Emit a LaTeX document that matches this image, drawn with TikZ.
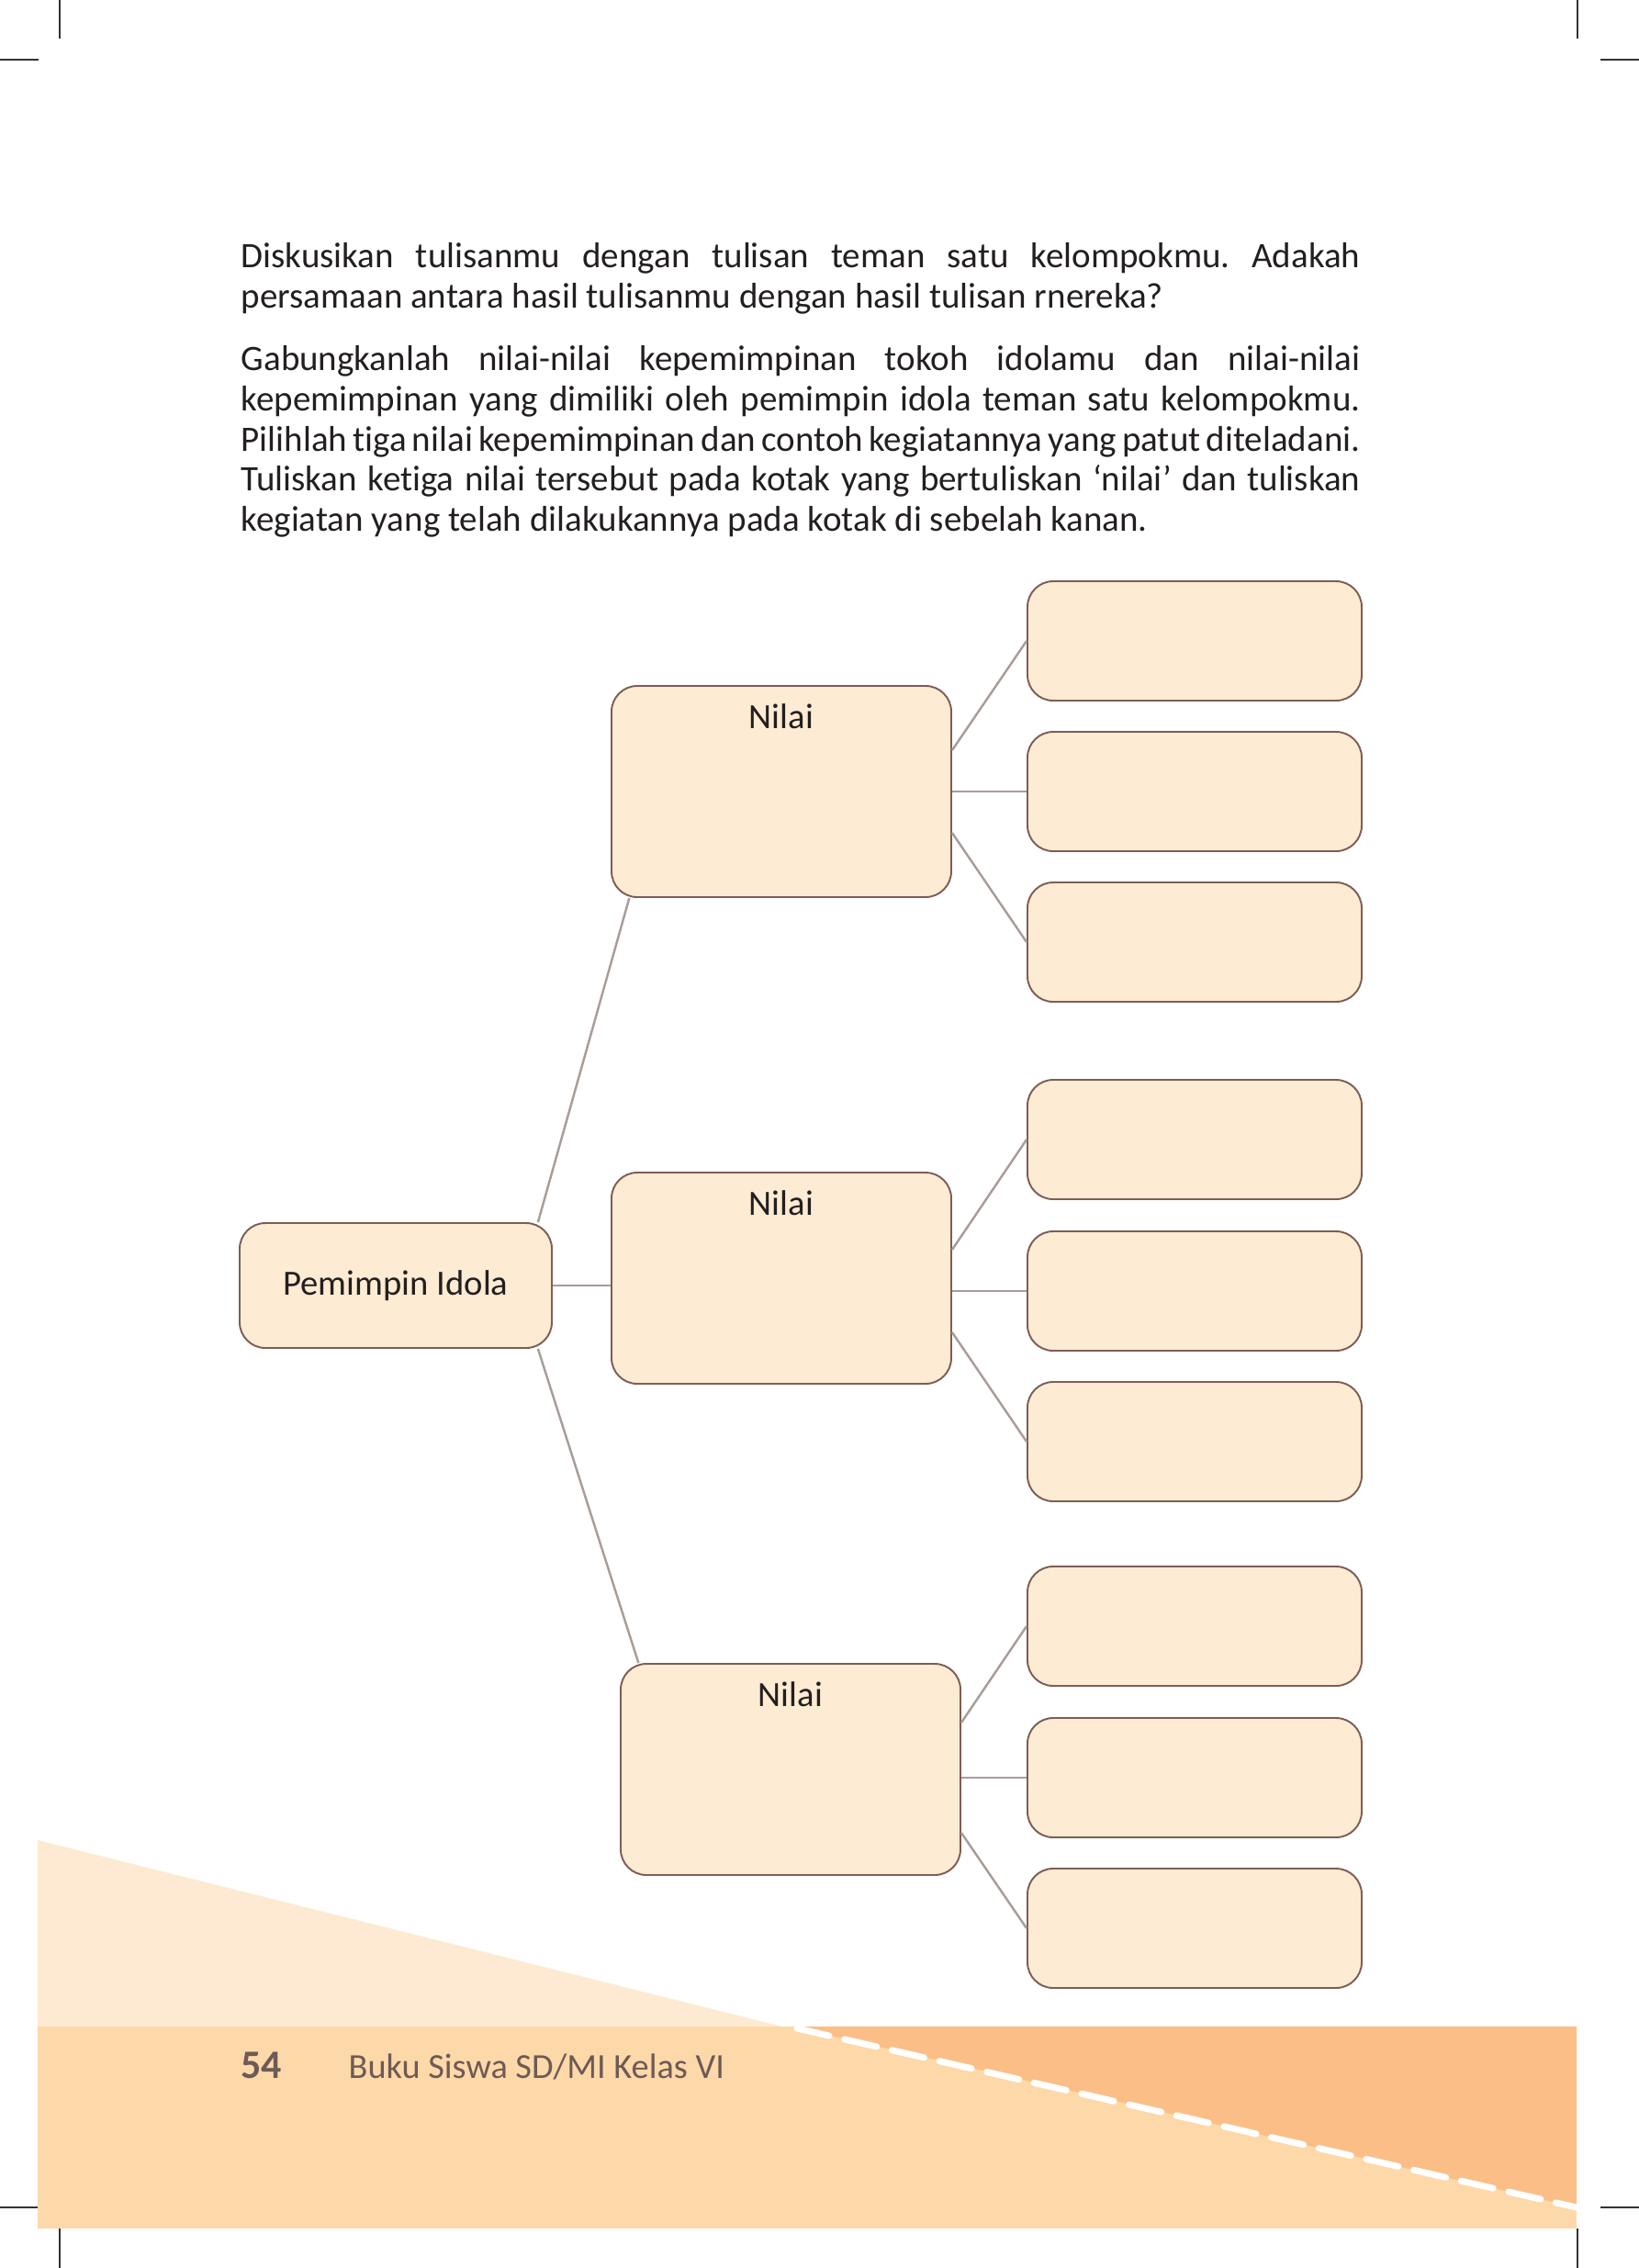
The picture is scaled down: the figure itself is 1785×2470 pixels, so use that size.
\documentclass[tikz,border=0pt]{standalone}
\usepackage{fontspec}
\setmainfont{Carlito}[Ligatures=NoCommon]
\usetikzlibrary{calc}

\definecolor{boxfill}{HTML}{FEEBD3}
\definecolor{boxline}{HTML}{7D5E55}
\definecolor{linkgray}{HTML}{A99D98}
\definecolor{palepeach}{HTML}{FEEAD2}
\definecolor{bandorange}{HTML}{FDD9A9}
\definecolor{deeporange}{HTML}{FCBE87}
\definecolor{footbrown}{HTML}{6E5A56}
\definecolor{inkblack}{HTML}{231F20}

\newcommand\instrfont{\fontsize{11.1}{12.47}\selectfont}
\newcommand\diagfont{\fontsize{11}{13}\selectfont}

\tikzset{
  roundbox/.style={draw=boxline, fill=boxfill, line width=0.55pt, rounded corners=2.8mm, inner sep=0pt},
  idolbox/.style={roundbox, minimum width=34mm, minimum height=13.6mm, font=\diagfont, text=inkblack},
  nilaibox/.style={roundbox, minimum width=37mm, minimum height=23mm},
  kegbox/.style={roundbox, minimum width=36.4mm, minimum height=13mm},
  link/.style={draw=linkgray, line width=0.7pt},
  cropmark/.style={draw=black!80, line width=0.45pt}
}

\begin{document}
\frenchspacing
\begin{tikzpicture}[x=0.1mm,y=-0.1mm]
\useasboundingbox (0,0) rectangle (1785,2470);

% Crop marks
\draw[cropmark] (65,0) -- (65,42);
\draw[cropmark] (0,65) -- (42,65);
\draw[cropmark] (1718,0) -- (1718,42);
\draw[cropmark] (1743,65) -- (1785,65);
\draw[cropmark] (65,2427) -- (65,2470);
\draw[cropmark] (0,2404) -- (41,2404);
\draw[cropmark] (1718,2427) -- (1718,2470);
\draw[cropmark] (1743,2404) -- (1785,2404);

% Footer band
\fill[palepeach] (41,2004) -- (852,2207) -- (41,2207) -- cycle;
\fill[bandorange] (41,2207) rectangle (1717,2427);
\fill[deeporange] (862,2207) -- (1717,2207) -- (1717,2404) -- cycle;
\draw[white, line width=0.7mm, line cap=round, dash pattern=on 3.6mm off 1.7mm] (868,2209) -- (1717,2404);
\node[anchor=base west, inner sep=0, text=footbrown, font=\bfseries\fontsize{12.5}{14}\selectfont] (pagenum) at (262,2263) {54};
\node[anchor=base west, inner sep=0, text=footbrown, font=\fontsize{10.9}{13}\selectfont] (booktitle) at (379,2263) {Buku Siswa SD/MI Kelas VI};

% Instructions
\node[anchor=north west, inner sep=0, text width=121.9mm, align=justify, text=inkblack, font=\instrfont] (instr) at (262,264) {%
\setlength{\parskip}{6.8pt}\hyphenpenalty=10000\exhyphenpenalty=10000\hbadness=10000
Diskusikan tulisanmu dengan tulisan teman satu kelompokmu. Adakah\linebreak
persamaan antara hasil tulisanmu dengan hasil tulisan rnereka?\par
Gabungkanlah nilai-nilai kepemimpinan tokoh idolamu dan nilai-nilai\linebreak
kepemimpinan yang dimiliki oleh pemimpin idola teman satu kelompokmu.\linebreak
Pilihlah tiga nilai kepemimpinan dan contoh kegiatannya yang patut diteladani.\linebreak
Tuliskan ketiga nilai tersebut pada kotak yang bertuliskan ‘nilai’ dan tuliskan\linebreak
kegiatan yang telah dilakukannya pada kotak di sebelah kanan.\par};

% Root
\node[idolbox] (idol) at (431,1400) {Pemimpin Idola};

% Nilai boxes
\node[nilaibox] (nilai1) at (851,862) {};
\node[nilaibox] (nilai2) at (851,1392) {};
\node[nilaibox] (nilai3) at (861,1927) {};
\node[anchor=base, inner sep=0, font=\diagfont, text=inkblack] (label1) at ([yshift=-4.7mm]nilai1.north) {Nilai};
\node[anchor=base, inner sep=0, font=\diagfont, text=inkblack] (label2) at ([yshift=-4.7mm]nilai2.north) {Nilai};
\node[anchor=base, inner sep=0, font=\diagfont, text=inkblack] (label3) at ([yshift=-4.7mm]nilai3.north) {Nilai};

% Activity boxes
\node[kegbox] (keg1) at (1301,698) {};
\node[kegbox] (keg2) at (1301,862) {};
\node[kegbox] (keg3) at (1301,1026) {};
\node[kegbox] (keg4) at (1301,1241) {};
\node[kegbox] (keg5) at (1301,1406) {};
\node[kegbox] (keg6) at (1301,1570) {};
\node[kegbox] (keg7) at (1301,1771) {};
\node[kegbox] (keg8) at (1301,1936) {};
\node[kegbox] (keg9) at (1301,2100) {};

% Root to nilai
\draw[link] (idol.24) -- (nilai1.215);
\draw[link] (idol.east) -- (idol.east -| nilai2.west);
\draw[link] (idol.-24) -- (nilai3.145);

% Nilai to activities
\draw[link] ($(keg2.west -| nilai1.east)+(0,-45)$) -- (keg1.west);
\draw[link] (keg2.west -| nilai1.east) -- (keg2.west);
\draw[link] ($(keg2.west -| nilai1.east)+(0,45)$) -- (keg3.west);
\draw[link] ($(keg5.west -| nilai2.east)+(0,-45)$) -- (keg4.west);
\draw[link] (keg5.west -| nilai2.east) -- (keg5.west);
\draw[link] ($(keg5.west -| nilai2.east)+(0,45)$) -- (keg6.west);
\draw[link] ($(keg8.west -| nilai3.east)+(0,-60)$) -- (keg7.west);
\draw[link] (keg8.west -| nilai3.east) -- (keg8.west);
\draw[link] ($(keg8.west -| nilai3.east)+(0,60)$) -- (keg9.west);
\end{tikzpicture}
\end{document}
